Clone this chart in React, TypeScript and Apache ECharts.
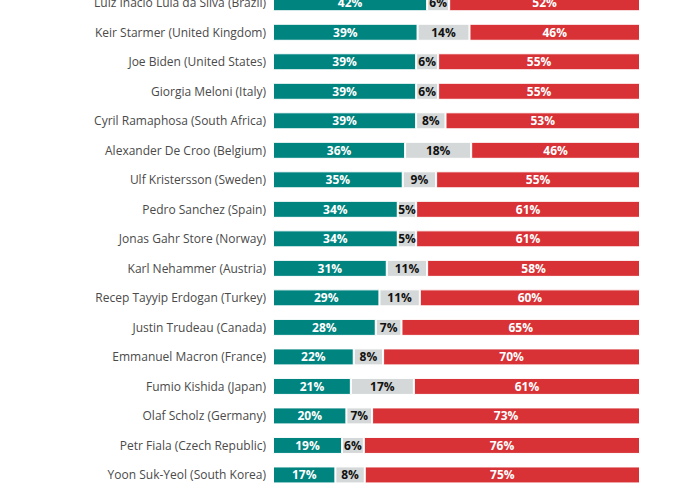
import React, { useEffect, useRef } from "react";
import * as echarts from "echarts";

const leaders = [
  "Luiz Inácio Lula da Silva (Brazil)",
  "Keir Starmer (United Kingdom)",
  "Joe Biden (United States)",
  "Giorgia Meloni (Italy)",
  "Cyril Ramaphosa (South Africa)",
  "Alexander De Croo (Belgium)",
  "Ulf Kristersson (Sweden)",
  "Pedro Sanchez (Spain)",
  "Jonas Gahr Store (Norway)",
  "Karl Nehammer (Austria)",
  "Recep Tayyip Erdogan (Turkey)",
  "Justin Trudeau (Canada)",
  "Emmanuel Macron (France)",
  "Fumio Kishida (Japan)",
  "Olaf Scholz (Germany)",
  "Petr Fiala (Czech Republic)",
  "Yoon Suk-Yeol (South Korea)",
];

const approve = [42, 39, 39, 39, 39, 36, 35, 34, 34, 31, 29, 28, 22, 21, 20, 19, 17];
const dontKnow = [6, 14, 6, 6, 8, 18, 9, 5, 5, 11, 11, 7, 8, 17, 7, 6, 8];
const disapprove = [52, 46, 55, 55, 53, 46, 55, 61, 61, 58, 60, 65, 70, 61, 73, 76, 75];

const TEAL = "#008480";
const GRAY = "#d5d8d8";
const RED = "#d83236";

export default function App() {
  const ref = useRef<HTMLDivElement>(null);

  useEffect(() => {
    if (!ref.current) return;
    const chart = echarts.init(ref.current, null, { renderer: "svg" });
    const totals = approve.map((a, i) => a + dontKnow[i] + disapprove[i]);
    const mk = (name: string, vals: number[], color: string, labelColor: string) => ({
      name,
      type: "bar",
      stack: "s",
      barWidth: 17,
      data: vals.map((v, i) => ({ value: (v / totals[i]) * 100, raw: v })),
      itemStyle: { color, borderColor: "#ffffff", borderWidth: 1 },
      label: {
        show: true,
        position: "inside",
        color: labelColor,
        fontFamily: "Open Sans",
        fontWeight: "bold",
        fontSize: 12,
        formatter: (p: any) => `${p.data.raw}%`,
      },
    });
    chart.setOption({
      animation: false,
      grid: { left: 273, right: 33, top: 0, bottom: 11.3, containLabel: false },
      xAxis: {
        type: "value",
        min: 0,
        max: 100,
        show: false,
      },
      yAxis: {
        type: "category",
        inverse: true,
        data: leaders,
        axisLine: { show: false },
        axisTick: { show: false },
        axisLabel: {
          color: "#4a4a4a",
          fontSize: 12,
          fontFamily: "Open Sans",
          margin: 7,
        },
      },
      series: [
        mk("Approve", approve, TEAL, "#ffffff"),
        mk("Don't know", dontKnow, GRAY, "#111111"),
        mk("Disapprove", disapprove, RED, "#ffffff"),
      ],
    });
    return () => chart.dispose();
  }, []);

  return (
    <div
      ref={ref}
      style={{ position: "fixed", left: 0, top: -12.5, width: 673, height: 512.5, background: "#fff" }}
    />
  );
}
